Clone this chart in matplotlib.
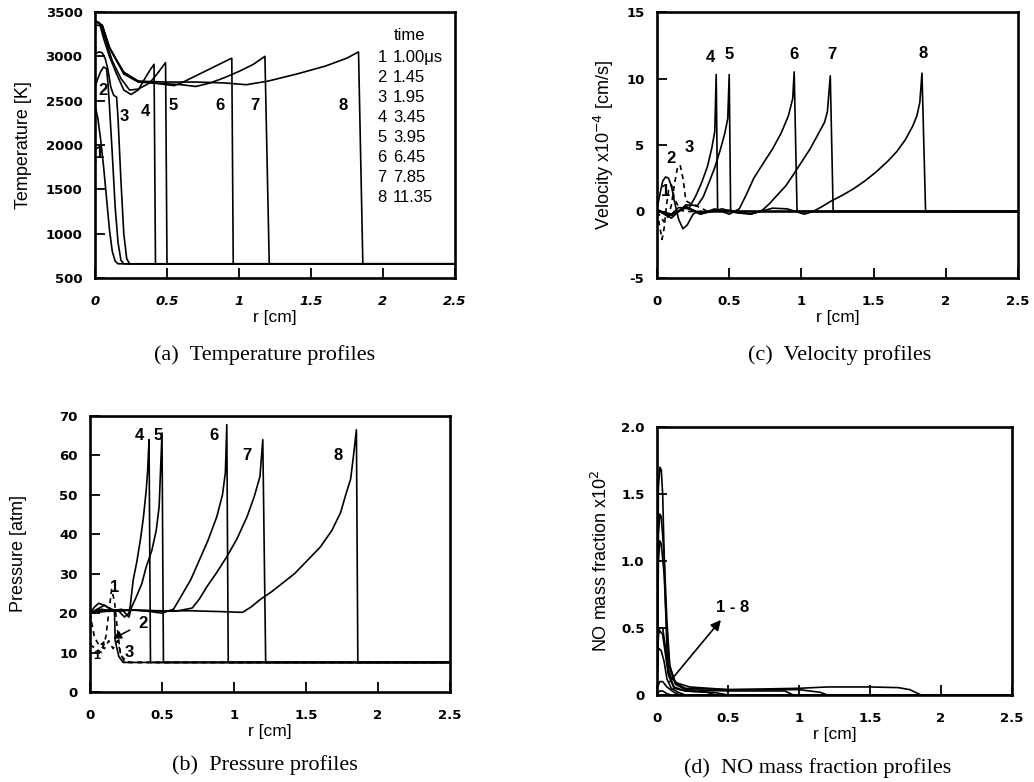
import numpy as np
import matplotlib
matplotlib.use("Agg")
import matplotlib.pyplot as plt

plt.rcParams['font.family'] = ['Liberation Sans', 'DejaVu Sans']

# ---------------- (a) temperature [K] vs r [cm] ----------------
T_r1 = [0, 0.02, 0.04, 0.06, 0.08, 0.1, 0.12, 0.14, 0.16, 2.5]
T_v1 = [2450, 2300, 2050, 1750, 1400, 1050, 800, 690, 660, 660]
T_r2 = [0, 0.02, 0.04, 0.06, 0.08, 0.09, 0.10, 0.12, 0.14, 0.16, 0.18, 0.2, 2.5]
T_v2 = [2650, 2750, 2830, 2880, 2860, 2700, 2450, 1900, 1300, 900, 700, 660, 660]
T_r3 = [0, 0.03, 0.05, 0.07, 0.09, 0.11, 0.13, 0.15, 0.16, 0.18, 0.2, 0.22, 0.24, 2.5]
T_v3 = [3030, 3050, 3040, 2980, 2850, 2650, 2560, 2540, 2300, 1600, 1000, 720, 660, 660]
T_r4 = [0, 0.03, 0.06, 0.1, 0.15, 0.2, 0.25, 0.3, 0.35, 0.38, 0.41, 0.42, 2.5]
T_v4 = [3400, 3380, 3200, 3000, 2800, 2620, 2570, 2620, 2760, 2840, 2910, 660, 660]
T_r5 = [0, 0.04, 0.08, 0.12, 0.18, 0.24, 0.3, 0.38, 0.44, 0.49, 0.5, 2.5]
T_v5 = [3350, 3350, 3150, 2950, 2750, 2620, 2630, 2700, 2820, 2930, 660, 660]
T_r6 = [0, 0.05, 0.1, 0.15, 0.2, 0.3, 0.4, 0.5, 0.55, 0.6, 0.7, 0.8, 0.9, 0.95, 0.96, 2.5]
T_v6 = [3400, 3350, 3100, 2950, 2820, 2720, 2700, 2680, 2670, 2700, 2780, 2860, 2940, 2980, 660, 660]
T_r7 = [0, 0.05, 0.1, 0.2, 0.3, 0.5, 0.6, 0.7, 0.8, 0.9, 1.0, 1.1, 1.18, 1.21, 2.5]
T_v7 = [3400, 3350, 3100, 2800, 2710, 2690, 2680, 2660, 2700, 2760, 2830, 2910, 3000, 660, 660]
T_r8 = [0, 0.05, 0.1, 0.2, 0.3, 0.5, 0.7, 0.9, 1.05, 1.2, 1.4, 1.6, 1.75, 1.83, 1.86, 2.5]
T_v8 = [3400, 3350, 3100, 2820, 2720, 2710, 2710, 2700, 2680, 2720, 2800, 2890, 2980, 3050, 660, 660]

times = ["1.00\u03bcs", "1.45", "1.95", "3.45", "3.95", "6.45", "7.85", "11.35"]

# ---------------- (c) velocity x1e-4 [cm/s] ----------------
V_r1 = [0, 0.02, 0.035, 0.05, 0.065, 0.08, 0.1, 0.12, 0.16, 0.2, 2.5]
V_v1 = [0, -1.2, -2.1, -1.2, 0.4, 1.6, 2.0, 1.0, 0.1, 0, 0]
V_r2 = [0, 0.02, 0.04, 0.06, 0.08, 0.1, 0.12, 0.15, 0.18, 0.21, 0.25, 0.28, 0.3, 2.5]
V_v2 = [0.2, 1.3, 2.3, 2.6, 2.5, 1.9, 0.8, -0.6, -1.3, -1.0, -0.2, 0, 0, 0]
V_r3 = [0, 0.05, 0.08, 0.1, 0.12, 0.14, 0.16, 0.18, 0.2, 0.25, 0.3, 0.35, 2.5]
V_v3 = [0, -0.8, -0.3, 0.5, 2.0, 3.2, 3.5, 2.5, 0.8, 0.5, 0.3, 0, 0]
V_r4 = [0, 0.08, 0.15, 0.22, 0.27, 0.31, 0.35, 0.38, 0.40, 0.41, 0.42, 2.5]
V_v4 = [0.2, -0.4, 0.3, 0.2, 1.2, 2.2, 3.4, 4.8, 6.0, 10.3, 0, 0]
V_r5 = [0, 0.1, 0.2, 0.28, 0.32, 0.35, 0.4, 0.44, 0.47, 0.49, 0.5, 0.51, 2.5]
V_v5 = [0.1, -0.5, 0.5, 0.45, 1.1, 1.9, 3.3, 4.7, 5.9, 7.0, 10.3, 0, 0]
V_r6 = [0, 0.1, 0.2, 0.3, 0.4, 0.5, 0.57, 0.62, 0.67, 0.74, 0.8, 0.86, 0.91, 0.94, 0.95, 0.97, 2.5]
V_v6 = [0.1, -0.3, 0.4, -0.2, 0.2, -0.2, 0.2, 1.3, 2.5, 3.7, 4.7, 5.9, 7.2, 8.5, 10.5, 0, 0]
V_r7 = [0, 0.1, 0.2, 0.3, 0.45, 0.55, 0.65, 0.73, 0.78, 0.83, 0.89, 0.94, 1.0, 1.06, 1.12, 1.16, 1.18, 1.2, 1.22, 2.5]
V_v7 = [0.1, -0.3, 0.3, -0.2, 0.2, -0.1, -0.2, 0.1, 0.6, 1.2, 1.9, 2.7, 3.7, 4.7, 5.9, 6.7, 7.5, 10.2, 0, 0]
V_r8 = [0, 0.1, 0.2, 0.3, 0.5, 0.65, 0.8, 0.9, 1.02, 1.08, 1.14, 1.2, 1.28, 1.36, 1.44, 1.52, 1.6, 1.66, 1.72, 1.77, 1.8, 1.82, 1.835, 1.86, 2.5]
V_v8 = [0.1, -0.2, 0.3, -0.1, 0.1, -0.2, 0.25, 0.2, -0.2, 0, 0.35, 0.75, 1.2, 1.7, 2.3, 3.0, 3.8, 4.5, 5.4, 6.4, 7.2, 8.2, 10.4, 0, 0]

# ---------------- (b) pressure [atm] ----------------
P_r1 = [0, 0.04, 0.08, 0.11, 0.13, 0.15, 0.17, 0.19, 0.21, 0.24, 2.5]
P_v1 = [12, 11, 10, 14, 20, 26, 23, 16, 10, 7.5, 7.5]
P_r2 = [0, 0.03, 0.06, 0.1, 0.14, 0.17, 0.175, 0.2, 0.23, 2.5]
P_v2 = [20, 21.5, 22.5, 22, 21, 20.5, 13, 9, 7.5, 7.5]
P_r3 = [0, 0.03, 0.06, 0.1, 0.13, 0.16, 0.19, 0.22, 0.25, 0.28, 2.5]
P_v3 = [20, 14, 12, 11, 13, 11, 13, 9, 8, 7.5, 7.5]
P_r4 = [0, 0.05, 0.1, 0.15, 0.2, 0.24, 0.27, 0.28, 0.30, 0.325, 0.35, 0.37, 0.39, 0.40, 0.41, 0.42, 2.5]
P_v4 = [20, 21, 22, 21, 20.5, 19, 20, 22, 28.4, 33, 38.6, 44, 51, 56, 64, 7.5, 7.5]
P_r5 = [0, 0.08, 0.15, 0.22, 0.27, 0.29, 0.32, 0.36, 0.39, 0.43, 0.46, 0.48, 0.5, 0.51, 2.5]
P_v5 = [20, 21, 20.5, 21, 19, 21.6, 24, 27.5, 31.7, 36, 41, 47, 65.7, 7.5, 7.5]
P_r6 = [0, 0.1, 0.2, 0.3, 0.4, 0.5, 0.58, 0.63, 0.7, 0.76, 0.82, 0.88, 0.92, 0.94, 0.95, 0.96, 2.5]
P_v6 = [20, 20.8, 20.5, 20.8, 20.5, 20, 21, 24.1, 28.5, 33.5, 38.5, 44.4, 50, 55.6, 67.8, 7.5, 7.5]
P_r7 = [0, 0.1, 0.3, 0.5, 0.6, 0.71, 0.76, 0.81, 0.88, 0.95, 1.02, 1.09, 1.14, 1.18, 1.2, 1.22, 2.5]
P_v7 = [20, 20.6, 20.8, 20.5, 20.5, 21.3, 23.6, 26.6, 30.3, 34.3, 38.8, 44.4, 49.5, 54.6, 64, 7.5, 7.5]
P_r8 = [0, 0.2, 0.5, 0.7, 0.9, 1.06, 1.12, 1.18, 1.26, 1.34, 1.42, 1.5, 1.6, 1.68, 1.74, 1.78, 1.81, 1.83, 1.85, 1.86, 2.5]
P_v8 = [20, 20.8, 20.6, 20.6, 20.4, 20.2, 21.6, 23.4, 25.4, 27.7, 30, 33, 36.8, 41, 45.5, 50.5, 54, 60, 66.5, 7.5, 7.5]

# ---------------- (d) NO mass fraction x1e2 ----------------
N_r1 = [0, 0.02, 0.04, 0.07, 0.1, 2.5]
N_v1 = [0.01, 0.03, 0.03, 0.01, 0, 0]
N_r2 = [0, 0.02, 0.04, 0.07, 0.12, 0.16, 2.5]
N_v2 = [0.05, 0.1, 0.1, 0.06, 0.02, 0, 0]
N_r3 = [0, 0.01, 0.03, 0.05, 0.07, 0.1, 0.15, 0.2, 2.5]
N_v3 = [0.1, 0.35, 0.33, 0.25, 0.12, 0.05, 0.02, 0, 0]
N_r4 = [0, 0.01, 0.02, 0.04, 0.06, 0.08, 0.12, 0.2, 0.35, 0.42, 2.5]
N_v4 = [0.1, 0.45, 0.48, 0.45, 0.3, 0.15, 0.05, 0.03, 0.02, 0, 0]
N_r5 = [0, 0.01, 0.02, 0.04, 0.06, 0.08, 0.12, 0.2, 0.4, 0.5, 2.5]
N_v5 = [0.1, 0.48, 0.5, 0.5, 0.35, 0.17, 0.06, 0.03, 0.02, 0, 0]
N_r6 = [0, 0.01, 0.02, 0.03, 0.05, 0.07, 0.09, 0.13, 0.2, 0.5, 0.9, 0.96, 2.5]
N_v6 = [0.1, 1.0, 1.15, 1.13, 0.9, 0.45, 0.2, 0.08, 0.04, 0.03, 0.03, 0, 0]
N_r7 = [0, 0.01, 0.02, 0.03, 0.05, 0.07, 0.09, 0.13, 0.2, 0.5, 1.0, 1.15, 1.2, 2.5]
N_v7 = [0.1, 1.2, 1.35, 1.33, 1.05, 0.55, 0.22, 0.09, 0.05, 0.04, 0.04, 0.02, 0, 0]
N_r8 = [0, 0.01, 0.02, 0.03, 0.04, 0.056, 0.07, 0.08, 0.1, 0.14, 0.23, 0.5, 1.0, 1.2, 1.5, 1.7, 1.78, 1.83, 1.86, 2.5]
N_v8 = [0.1, 1.55, 1.7, 1.68, 1.5, 0.8, 0.35, 0.19, 0.13, 0.09, 0.06, 0.04, 0.05, 0.06, 0.06, 0.055, 0.04, 0.015, 0, 0]

W, H = 1034, 782
fig = plt.figure(figsize=(W / 100, H / 100), dpi=100)


def px_axes(x0, y0, x1, y1):
    return fig.add_axes([x0 / W, 1 - y1 / H, (x1 - x0) / W, (y1 - y0) / H])


def style(ax, yticks, ylabels, ylabel, ylabelpad, italic_x=False):
    ax.set_xlim(0, 2.5)
    ax.set_ylim(yticks[0], yticks[-1])
    ax.set_xticks([0, 0.5, 1, 1.5, 2, 2.5])
    ax.set_xticklabels(["0", "0.5", "1", "1.5", "2", "2.5"],
                       fontfamily="DejaVu Sans", fontweight="bold", fontsize=9.5,
                       fontstyle="italic" if italic_x else "normal")
    ax.set_yticks(yticks)
    ax.set_yticklabels(ylabels, fontfamily="DejaVu Sans", fontweight="bold", fontsize=9.5)
    ax.tick_params(direction="in", length=7, width=1.3, top=False, right=False)
    ax.tick_params(axis="x", pad=12)
    ax.tick_params(axis="y", pad=9)
    for s in ax.spines.values():
        s.set_linewidth(1.9)
    ax.set_xlabel("r [cm]", fontsize=12.5, labelpad=2)
    ax.set_ylabel(ylabel, fontsize=13, labelpad=ylabelpad)


lw = 1.2
solid = dict(color="black", lw=lw)
dash = dict(color="black", lw=lw, ls=(0, (3, 2.5)))
lab_font = dict(fontsize=12, fontweight="bold", ha="center", va="center")

# (a)
axa = px_axes(95, 12, 455, 278)
for r, v in [(T_r1, T_v1), (T_r2, T_v2), (T_r3, T_v3), (T_r4, T_v4),
             (T_r5, T_v5), (T_r6, T_v6), (T_r7, T_v7), (T_r8, T_v8)]:
    axa.plot(r, v, **solid)
style(axa, [500, 1000, 1500, 2000, 2500, 3000, 3500],
      ["500", "1000", "1500", "2000", "2500", "3000", "3500"], "Temperature [K]", 10, italic_x=True)
for lab, x, y in [("1", 0.03, 1900), ("2", 0.055, 2610), ("3", 0.2, 2320), ("4", 0.35, 2380),
                  ("5", 0.54, 2450), ("6", 0.87, 2450), ("7", 1.11, 2450), ("8", 1.72, 2450)]:
    axa.text(x, y, lab, **lab_font)
axa.text(0.875, 0.91, "time", transform=axa.transAxes, fontsize=12, ha="center", va="center")
for i, t in enumerate(times):
    yy = 0.83 - i * 0.0755
    axa.text(0.785, yy, str(i + 1), transform=axa.transAxes, fontsize=12, ha="left", va="center")
    axa.text(0.828, yy, t, transform=axa.transAxes, fontsize=12, ha="left", va="center")

# (c)
axc = px_axes(657, 12, 1018, 278)
axc.plot(V_r1, V_v1, **dash)
axc.plot(V_r2, V_v2, **solid)
axc.plot(V_r3, V_v3, **dash)
for r, v in [(V_r4, V_v4), (V_r5, V_v5), (V_r6, V_v6), (V_r7, V_v7), (V_r8, V_v8)]:
    axc.plot(r, v, **solid)
style(axc, [-5, 0, 5, 10, 15], ["-5", "0", "5", "10", "15"], r"Velocity x10$^{-4}$ [cm/s]", 7)
for lab, x, y in [("1", 0.06, 1.5), ("2", 0.1, 4.0), ("3", 0.22, 4.8), ("4", 0.37, 11.6),
                  ("5", 0.5, 11.8), ("6", 0.95, 11.8), ("7", 1.21, 11.8), ("8", 1.84, 11.9)]:
    axc.text(x, y, lab, **lab_font)

# (b)
axb = px_axes(90, 416, 450, 692)
axb.plot(P_r1, P_v1, **dash)
axb.plot(P_r2, P_v2, **solid)
axb.plot(P_r3, P_v3, **dash)
for r, v in [(P_r4, P_v4), (P_r5, P_v5), (P_r6, P_v6), (P_r7, P_v7), (P_r8, P_v8)]:
    axb.plot(r, v, **solid)
style(axb, [0, 10, 20, 30, 40, 50, 60, 70],
      ["0", "10", "20", "30", "40", "50", "60", "70"], "Pressure [atm]", 23)
for lab, x, y in [("1", 0.17, 26.4), ("3", 0.27, 10), ("4", 0.34, 65), ("5", 0.47, 65),
                  ("6", 0.86, 65), ("7", 1.09, 60), ("8", 1.72, 60)]:
    axb.text(x, y, lab, **lab_font)
axb.annotate("2", xy=(0.16, 13.5), xytext=(0.37, 17.5), **lab_font,
             arrowprops=dict(arrowstyle="-|>", color="black", lw=1.1, shrinkA=5, shrinkB=0))
axb.annotate("1", xy=(0.1, 13), xytext=(0.05, 9.2), fontsize=9, fontweight="bold",
             ha="center", va="center",
             arrowprops=dict(arrowstyle="-|>", color="black", lw=0.8, shrinkA=3, shrinkB=0,
                             mutation_scale=6))

# (d)
axd = px_axes(657, 427, 1012, 695)
for r, v in [(N_r1, N_v1), (N_r2, N_v2), (N_r3, N_v3), (N_r4, N_v4),
             (N_r5, N_v5), (N_r6, N_v6), (N_r7, N_v7), (N_r8, N_v8)]:
    axd.plot(r, v, **solid)
style(axd, [0, 0.5, 1.0, 1.5, 2.0], ["0", "0.5", "1.0", "1.5", "2.0"],
      r"NO mass fraction x10$^{2}$", 7)
axd.annotate("", xy=(0.45, 0.56), xytext=(0.09, 0.1),
             arrowprops=dict(arrowstyle="-|>", color="black", lw=1.2, shrinkA=0, shrinkB=0,
                             mutation_scale=15))
axd.text(0.53, 0.65, "1 - 8", **lab_font)

# captions
cap = dict(fontsize=16, fontfamily="Liberation Serif", ha="center", va="center")
fig.text(265 / W, 1 - 355 / H, "(a)  Temperature profiles", **cap)
fig.text(840 / W, 1 - 355 / H, "(c)  Velocity profiles", **cap)
fig.text(265 / W, 1 - 765 / H, "(b)  Pressure profiles", **cap)
fig.text(818 / W, 1 - 768 / H, "(d)  NO mass fraction profiles", **cap)

fig.savefig("out.png", dpi=100)
